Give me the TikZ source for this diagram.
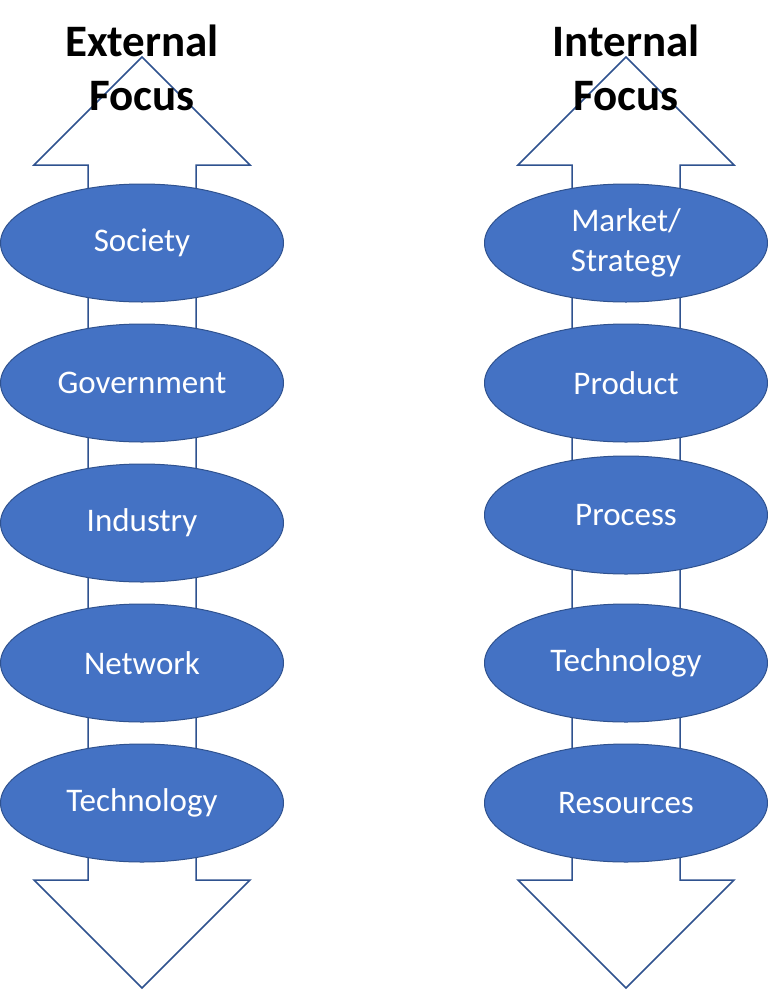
\documentclass[tikz,border=0pt]{standalone}
\usepackage{fontspec}
\setmainfont{Carlito}
\usetikzlibrary{shapes.geometric}
\definecolor{officeblue}{HTML}{4472C4}
\definecolor{edgeblue}{HTML}{2F528F}

\begin{document}
\begin{tikzpicture}[x=1pt,y=-1pt]
\tikzset{level/.style = {shape=ellipse,draw=edgeblue,fill=officeblue,line width=1pt,
minimum width=283pt,minimum height=118pt,inner sep=0pt,text=white,
font=\fontsize{33}{40}\selectfont,align=center}}
\tikzset{track/.style = {draw=edgeblue,fill=white,line width=1.5pt}}
\tikzset{heading/.style = {font=\fontsize{45}{54}\selectfont\bfseries,align=center,
inner sep=0pt,anchor=north}}
\useasboundingbox (0,0) rectangle (768,991);
% arrows
\draw[track] (142,57) -- (250,165) -- (196,165) -- (196,880) -- (250,880) -- (142,988)
  -- (34,880) -- (88,880) -- (88,165) -- (34,165) -- cycle;
\draw[track] (626,57) -- (734,165) -- (680,165) -- (680,880) -- (734,880) -- (626,988)
  -- (518,880) -- (572,880) -- (572,165) -- (518,165) -- cycle;
% vertices
\node[level] (e1) at (142,243) {Society};
\node[level] (e2) at (142,383) {Government};
\node[level] (e3) at (142,523) {Industry};
\node[level] (e4) at (142,663) {Network};
\node[level] (e5) at (142,803) {Technology};
\node[level] (i1) at (626,243) {Market/\\Strategy};
\node[level] (i2) at (626,383) {Product};
\node[level] (i3) at (626,515) {Process};
\node[level] (i4) at (626,663) {Technology};
\node[level] (i5) at (626,803) {Resources};
% titles
\node[heading] (ext) at (142,25) {External\\Focus};
\node[heading] (int) at (626,25) {Internal\\Focus};
\end{tikzpicture}
\end{document}
